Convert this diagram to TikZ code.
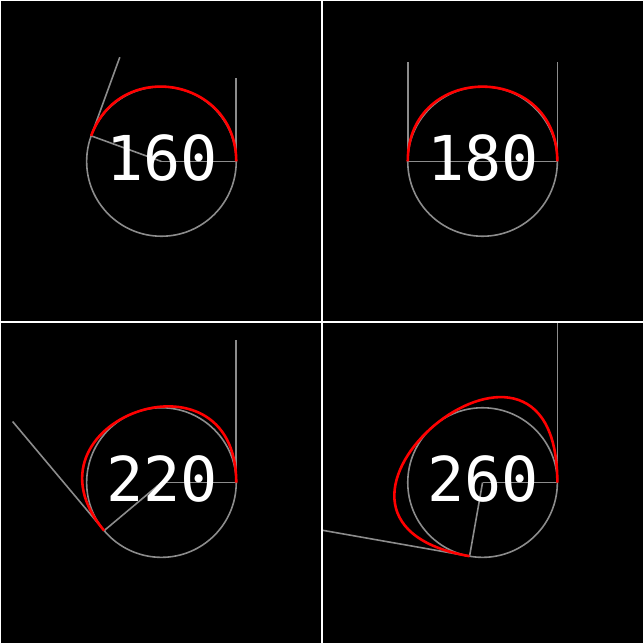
\documentclass[tikz,border=0pt]{standalone}
\usepackage{fontspec}
\newfontfamily\monofont{DejaVu Sans Mono}
\definecolor{guidegray}{RGB}{140,140,140}
\tikzset{
  guide/.style={draw=guidegray,line width=1.6pt},
  bezarc/.style={draw=red,line width=2.6pt},
  divider/.style={draw=white,line width=1.8pt},
  anglabel/.style={text=white,anchor=base,font=\monofont\fontsize{62}{62}\selectfont}
}
\begin{document}
\begin{tikzpicture}[x=1pt,y=1pt]
\fill[black] (0,0) rectangle (644,644);

% one panel per angle, circle of radius 75
\foreach \ang/\cx/\cy/\nm in {160/161/483/a,180/483/483/b,220/161/161/c,260/483/161/d}{
\begin{scope}[shift={(\cx,\cy)}]
\pgfmathsetmacro{\k}{4/3*tan(\ang/4)*75}
\clip (-161,-161) rectangle (161,161);

\coordinate (o\nm) at (0,0);
\coordinate (p\nm) at (75,0);
\coordinate (q\nm) at (\ang:75);
\coordinate (c\nm) at (75,\k);
\path (q\nm) ++(\ang-90:\k) coordinate (d\nm);

\draw[guide] (o\nm) circle (75);
\draw[guide] (o\nm) -- (p\nm);
\draw[guide] (o\nm) -- (q\nm);
\draw[guide] (p\nm) -- (c\nm);
\draw[guide] (q\nm) -- (d\nm);

\draw[bezarc] (p\nm) .. controls (c\nm) and (d\nm) .. (q\nm);

\node[anglabel] (lbl\nm) at (0.5,-19.5) {\ang};
\end{scope}
}

\draw[divider] (322,0) -- (322,644);
\draw[divider] (0,322) -- (644,322);
\end{tikzpicture}
\end{document}
